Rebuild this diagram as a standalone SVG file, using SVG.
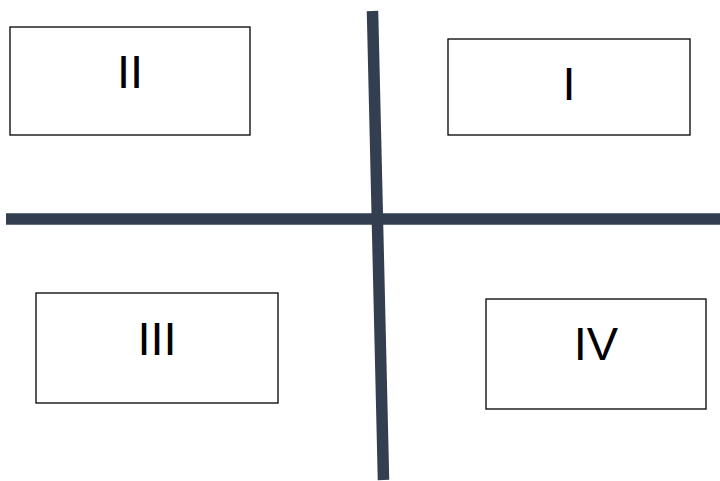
<svg xmlns="http://www.w3.org/2000/svg" width="720" height="481" viewBox="0 0 720 481">
<style>
.box{fill:#fff;stroke:#000;stroke-width:1.3}
.lbl{font-family:"Liberation Sans",Arial,sans-serif;font-size:47px;fill:#000;text-anchor:middle}
.axis{stroke:#333f50;stroke-width:11.5;fill:none}
</style>
<rect width="720" height="481" fill="#fff"/>
<g id="connectors">
<line class="axis" x1="6" y1="219" x2="720" y2="219"/>
<line class="axis" x1="372.5" y1="11" x2="383.5" y2="480"/>
</g>
<g id="node-II">
<rect class="box" x="10" y="27" width="240" height="108"/>
<text class="lbl" x="130" y="88">II</text>
</g>
<g id="node-I">
<rect class="box" x="448" y="39" width="242" height="96"/>
<text class="lbl" x="569" y="100">I</text>
</g>
<g id="node-III">
<rect class="box" x="36" y="293" width="242" height="110"/>
<text class="lbl" x="157" y="355">III</text>
</g>
<g id="node-IV">
<rect class="box" x="486" y="299" width="220" height="110"/>
<text class="lbl" x="596" y="360">IV</text>
</g>
</svg>
